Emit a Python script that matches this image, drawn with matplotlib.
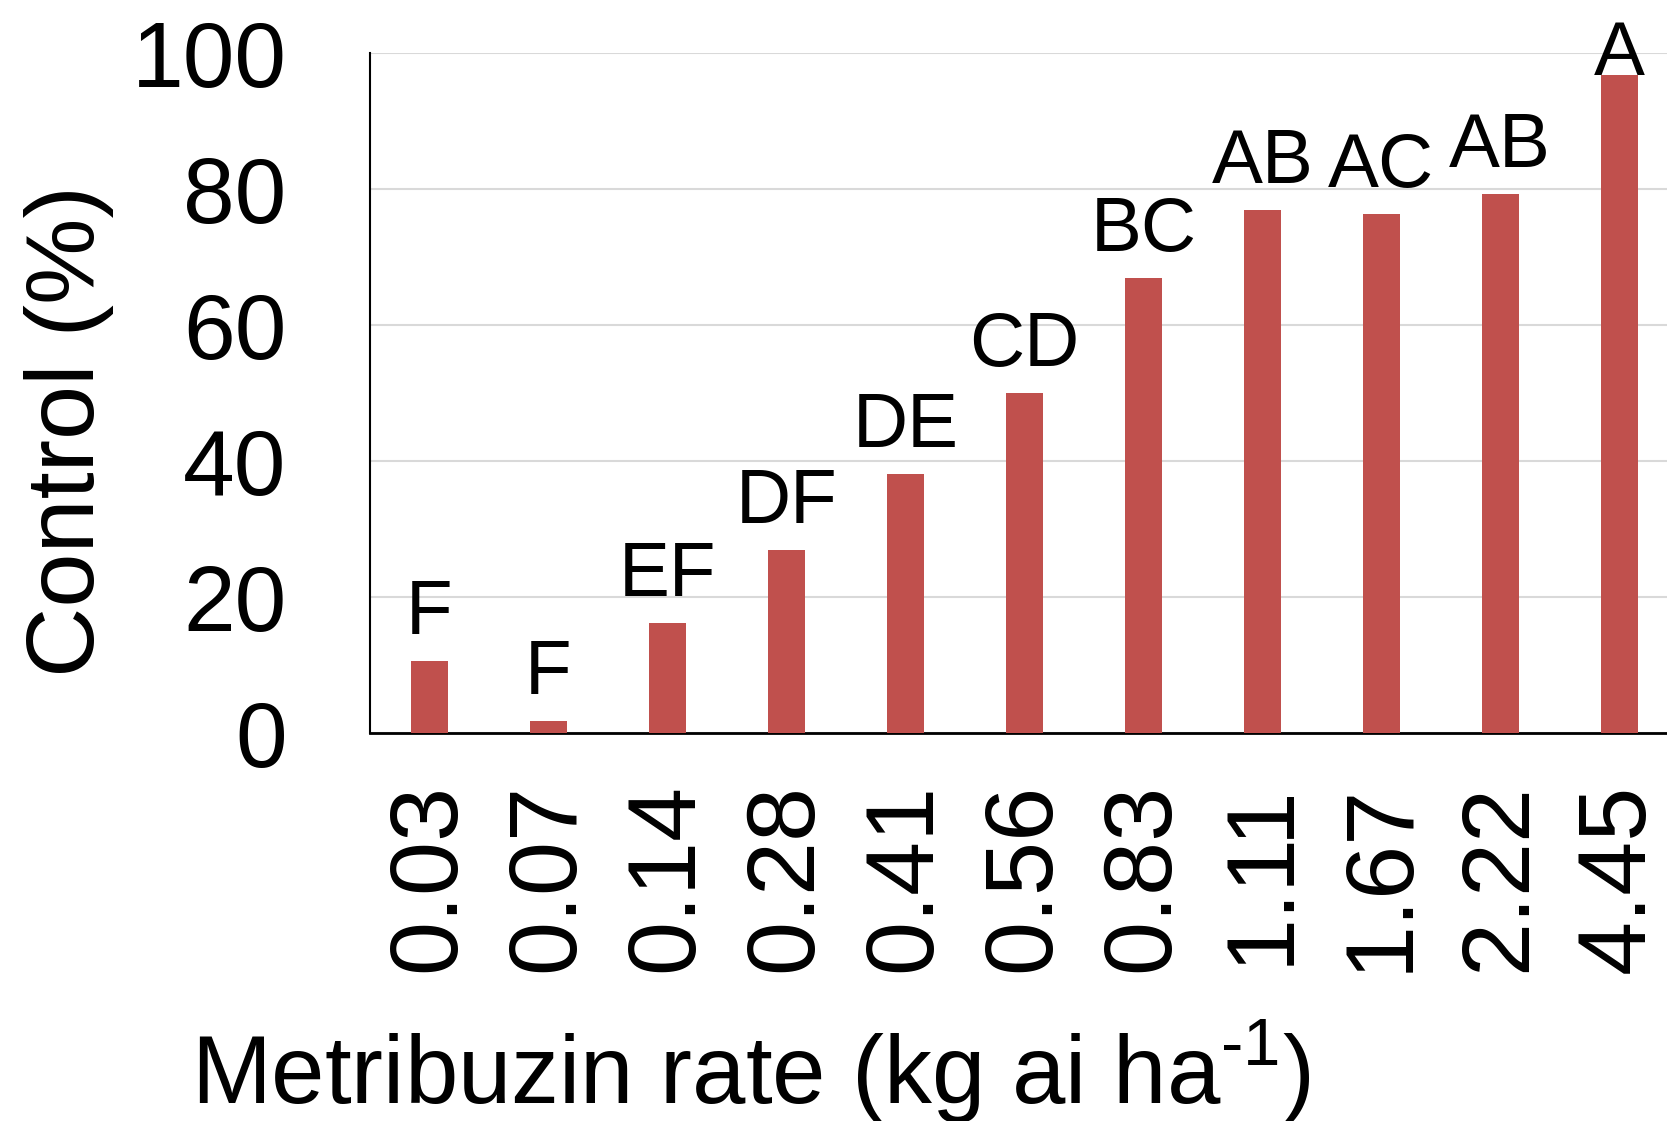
import matplotlib
matplotlib.use("Agg")
import matplotlib.pyplot as plt
import numpy as np

plt.rcParams["font.family"] = ["Liberation Sans", "DejaVu Sans"]
plt.rcParams["mathtext.fontset"] = "custom"
plt.rcParams["mathtext.rm"] = "Liberation Sans"

# metribuzin rates (kg ai/ha) and control (%)
rates = ["0.03", "0.07", "0.14", "0.28", "0.41", "0.56", "0.83", "1.11", "1.67", "2.22", "4.45"]
control = [10.6, 1.8, 16.2, 26.9, 38.1, 50.0, 66.9, 76.9, 76.3, 79.3, 96.8]
letters = ["F", "F", "EF", "DF", "DE", "CD", "BC", "AB", "AC", "AB", "A"]

fig = plt.figure(figsize=(16.67, 11.21), dpi=100)
ax = fig.add_axes([0.222, 0.346, 0.785, 0.6066])

x = np.arange(len(rates))
ax.bar(x, control, width=0.31, color="#C0504D", zorder=3)

# letters above bars (last one sits right on the bar)
for xi, v, lab in zip(x, control, letters):
    y = v + 4 if v + 4 < 100 else v
    ax.text(xi, y, lab, ha="center", va="baseline", fontsize=55, clip_on=False)

ax.set_xlim(-0.5, len(rates) - 0.5)
ax.set_ylim(0, 100)
ax.set_yticks([0, 20, 40, 60, 80, 100])
ax.set_xticks(x)
ax.set_xticklabels(rates, rotation=90, fontsize=70)
ax.tick_params(axis="y", labelsize=67, length=0, pad=60)
ax.tick_params(axis="x", length=0, pad=36)

ax.yaxis.grid(True, color="#D9D9D9", linewidth=1.5, zorder=0)
ax.set_axisbelow(True)
for s in ["top", "right"]:
    ax.spines[s].set_visible(False)
ax.spines["left"].set_linewidth(1.5)
ax.spines["bottom"].set_linewidth(2)

ax.set_ylabel("Control (%)", fontsize=70)
ax.yaxis.set_label_coords(-0.196, 0.444)
ax.set_xlabel("Metribuzin rate (kg ai ha$^{\\mathregular{\u20101}}$)", fontsize=69)
ax.xaxis.set_label_coords(0.291, -0.418)

fig.savefig("out.png", dpi=100)
